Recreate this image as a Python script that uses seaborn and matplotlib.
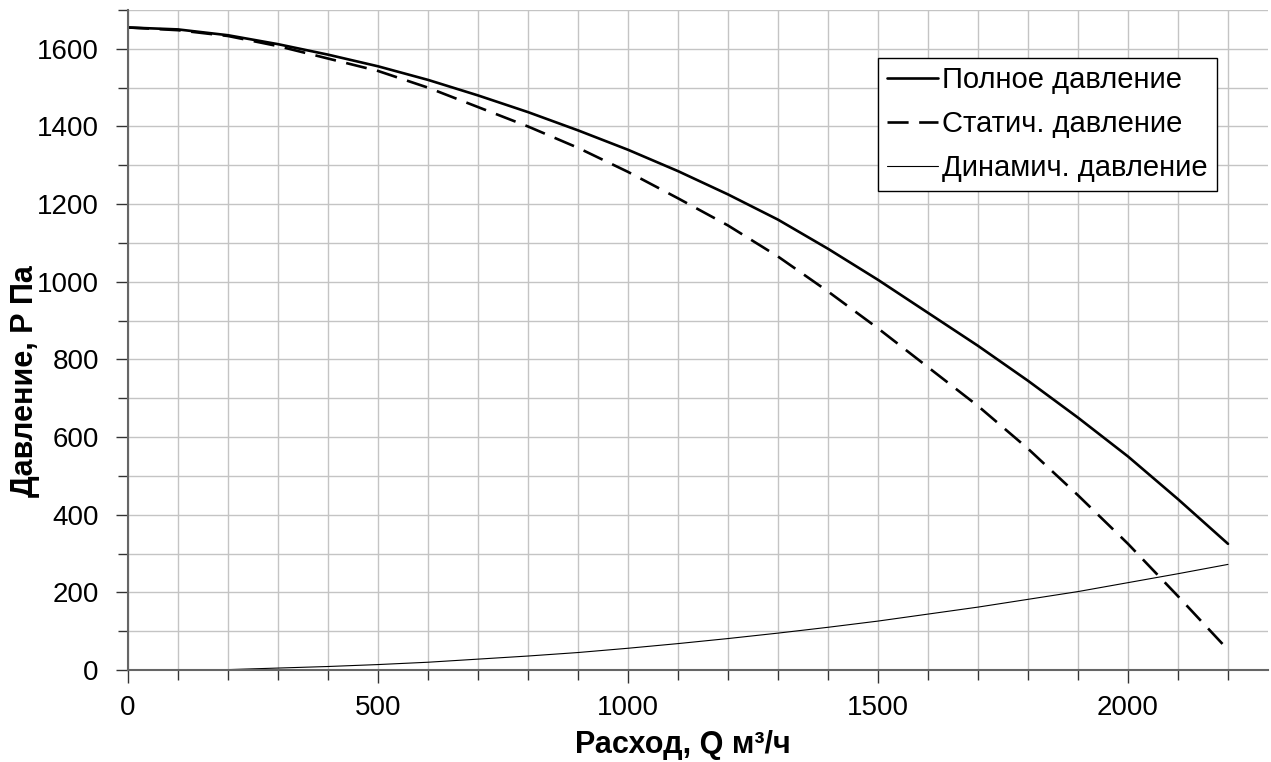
import numpy as np
import pandas as pd
import matplotlib
matplotlib.use('Agg')
import matplotlib.pyplot as plt
import seaborn as sns
from matplotlib.ticker import MultipleLocator

# расход, м3/ч
q = [0, 100, 200, 300, 400, 500, 600, 700, 800, 900, 1000, 1100,
     1200, 1300, 1400, 1500, 1600, 1700, 1800, 1900, 2000, 2100, 2200]
p_full = [1655, 1650, 1635, 1612, 1585, 1555, 1520, 1480, 1437, 1390, 1340, 1285,
          1225, 1160, 1085, 1005, 920, 835, 745, 650, 550, 440, 325]
p_static = [1655, 1648, 1633, 1607, 1575, 1543, 1500, 1450, 1400, 1345, 1283, 1215,
            1145, 1065, 975, 880, 780, 680, 570, 450, 325, 190, 52]
q_dyn = [165, 200, 300, 400, 500, 600, 700, 800, 900, 1000, 1100,
         1200, 1300, 1400, 1500, 1600, 1700, 1800, 1900, 2000, 2100, 2200]
p_dyn = [0, 1, 5, 9, 14, 20, 28, 36, 45, 56, 68,
         81, 95, 110, 126, 144, 162, 182, 202, 225, 248, 272]

sns.set_style('white')
plt.rcParams['font.family'] = ['Liberation Sans', 'DejaVu Sans']
plt.rcParams['text.color'] = 'black'
plt.rcParams['axes.labelcolor'] = 'black'
plt.rcParams['xtick.color'] = 'black'
plt.rcParams['ytick.color'] = 'black'

fig = plt.figure(figsize=(12.71, 7.62), dpi=100)
ax = fig.add_axes([128 / 1271, 1 - 670 / 762, 1140 / 1271, 660 / 762])

full = pd.DataFrame({'q': q, 'p': p_full})
stat = pd.DataFrame({'q': q, 'p': p_static})
dyn = pd.DataFrame({'q': q_dyn, 'p': p_dyn})

sns.lineplot(data=full, x='q', y='p', ax=ax, color='black', lw=1.9, label='Полное давление')
sns.lineplot(data=stat, x='q', y='p', ax=ax, color='black', lw=1.9, label='Статич. давление')
sns.lineplot(data=dyn, x='q', y='p', ax=ax, color='black', lw=0.8, label='Динамич. давление')
ax.lines[1].set_dashes((8, 4))

ax.set_xlim(0, 2280)
ax.set_ylim(0, 1700)
ax.xaxis.set_major_locator(MultipleLocator(500))
ax.xaxis.set_minor_locator(MultipleLocator(100))
ax.yaxis.set_major_locator(MultipleLocator(200))
ax.yaxis.set_minor_locator(MultipleLocator(100))
ax.grid(which='both', color='#c4c4c4', lw=1)
ax.set_axisbelow(True)

for s in ['top', 'right']:
    ax.spines[s].set_visible(False)
for s in ['left', 'bottom']:
    ax.spines[s].set_color('#666666')
    ax.spines[s].set_linewidth(1.5)

ax.tick_params(which='both', bottom=True, left=True, direction='out')
ax.tick_params(which='major', length=9, width=1, color='#333333', labelsize=20)
ax.tick_params(which='minor', length=7, width=1, color='#333333')
ax.tick_params(axis='y', which='major', pad=12)
ax.tick_params(axis='x', which='major', pad=9)

ax.set_xlabel('Расход, Q м³/ч', fontsize=22, fontweight='bold', va='center')
ax.set_ylabel('Давление, Р Па', fontsize=22, fontweight='bold', va='center')
ax.xaxis.set_label_coords(0.487, -0.114)
ax.yaxis.set_label_coords(-0.0904, 0.438)

leg = ax.legend(loc='upper right', bbox_to_anchor=(0.955, 0.928), fontsize=21,
                frameon=True, fancybox=False, handlelength=1.75, handletextpad=0.15,
                borderpad=0.3, labelspacing=0.55, borderaxespad=0)
leg.get_frame().set_edgecolor('black')
leg.get_frame().set_linewidth(1)
leg.get_frame().set_alpha(1)

fig.savefig('out.png', dpi=100)
